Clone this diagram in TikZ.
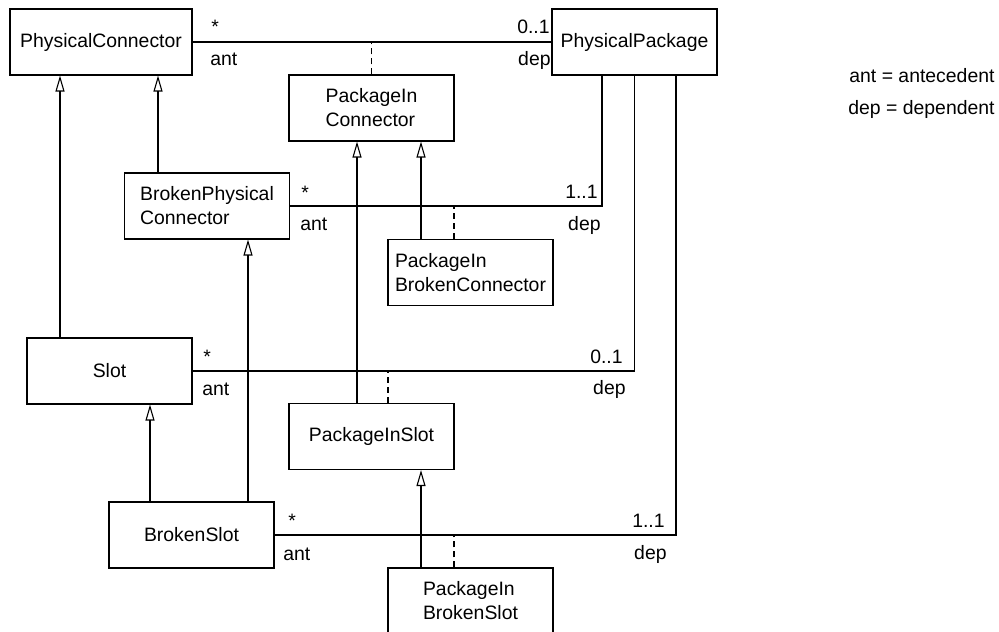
\documentclass[tikz,border=0pt]{standalone}
\usepackage{fontspec}
\setmainfont{Liberation Sans}
\usetikzlibrary{arrows.meta, positioning}
\newcommand{\umlfont}{\fontsize{9.7}{12}\selectfont}
\tikzset{
  classbox/.style={rectangle, draw, line width=0.55pt, minimum width=82.5pt,
                   minimum height=33pt, inner sep=0pt, align=left, font=\umlfont},
  assoc/.style={line width=0.55pt},
  assocclass/.style={line width=0.55pt, dash pattern=on 3pt off 2pt},
  gen/.style={-{Triangle[open, length=8pt, width=4.5pt]}, line width=0.55pt},
  mult/.style={inner sep=0pt, font=\umlfont, anchor=base west},
  multr/.style={mult, anchor=base east},
}

\begin{document}
\begin{tikzpicture}[x=0.5pt, y=-0.5pt]
  \useasboundingbox (0,0) rectangle (999,631);

  % classes
  \node[classbox, minimum width=91pt] (pc) at (101,42) {PhysicalConnector};
  \node[classbox] (pp)   at (634.5,42)  {PhysicalPackage};
  \node[classbox] (pic)  at (371.5,108) {PackageIn\\Connector};
  \node[classbox] (bpc)  at (207,206)   {BrokenPhysical\\Connector};
  \node[classbox] (pibc) at (470.5,272.5) {PackageIn\\BrokenConnector};
  \node[classbox] (slot) at (109.5,371) {Slot};
  \node[classbox] (pis)  at (371.5,436.5) {PackageInSlot};
  \node[classbox] (bs)   at (191.5,535) {BrokenSlot};
  \node[classbox] (pibs) at (470.5,601) {PackageIn\\BrokenSlot};

  % associations
  \draw[assoc] (pc.east) -- (pp.west);
  \draw[assoc] (bpc.east) -| ([xshift=-16.25pt]pp.south);
  \draw[assoc] (slot.east) -| (pp.south);
  \draw[assoc] (bs.east) -| ([xshift=20.75pt]pp.south);

  % association classes
  \coordinate (d2) at ([xshift=-8.25pt]pibc.north);
  \coordinate (d3) at ([xshift=8.25pt]pis.north);
  \coordinate (d4) at ([xshift=-8.25pt]pibs.north);
  \draw[assocclass] (pic.north) -- (pic.north |- pc.east);
  \draw[assocclass] (d2) -- (d2 |- bpc.east);
  \draw[assocclass] (d3) -- (d3 |- slot.east);
  \draw[assocclass] (d4) -- (d4 |- bs.east);

  % generalizations
  \coordinate (g1) at ([xshift=-24.75pt]slot.north);
  \coordinate (g2) at ([xshift=-24.5pt]bpc.north);
  \coordinate (g3) at ([xshift=28.25pt]bs.north);
  \coordinate (g4) at ([xshift=-20.75pt]bs.north);
  \coordinate (g5) at ([xshift=-7.25pt]pis.north);
  \coordinate (g6) at ([xshift=-24.75pt]pibc.north);
  \coordinate (g7) at ([xshift=-24.75pt]pibs.north);
  \draw[gen] (g1) -- (g1 |- pc.south);
  \draw[gen] (g2) -- (g2 |- pc.south);
  \draw[gen] (g3) -- (g3 |- bpc.south);
  \draw[gen] (g4) -- (g4 |- slot.south);
  \draw[gen] (g5) -- (g5 |- pic.south);
  \draw[gen] (g6) -- (g6 |- pic.south);
  \draw[gen] (g7) -- (g7 |- pis.south);

  % multiplicities and roles
  \node[mult]  (m1a) at (211,34)  {*};
  \node[mult]  (r1a) at (210,66)  {ant};
  \node[multr] (m1b) at (550,34)  {0..1};
  \node[multr] (r1b) at (551,66)  {dep};
  \node[mult]  (m2a) at (301,199) {*};
  \node[mult]  (r2a) at (300,230) {ant};
  \node[multr] (m2b) at (598,198) {1..1};
  \node[multr] (r2b) at (601,230) {dep};
  \node[mult]  (m3a) at (203,363) {*};
  \node[mult]  (r3a) at (202,395) {ant};
  \node[multr] (m3b) at (623,363) {0..1};
  \node[multr] (r3b) at (626,394) {dep};
  \node[mult]  (m4a) at (288,527) {*};
  \node[mult]  (r4a) at (283,560) {ant};
  \node[multr] (m4b) at (665,527) {1..1};
  \node[multr] (r4b) at (667,559) {dep};

  % legend
  \node[mult] (leg1) at (849,83)  {ant = antecedent};
  \node[mult] (leg2) at (848,114) {dep = dependent};
\end{tikzpicture}
\end{document}
